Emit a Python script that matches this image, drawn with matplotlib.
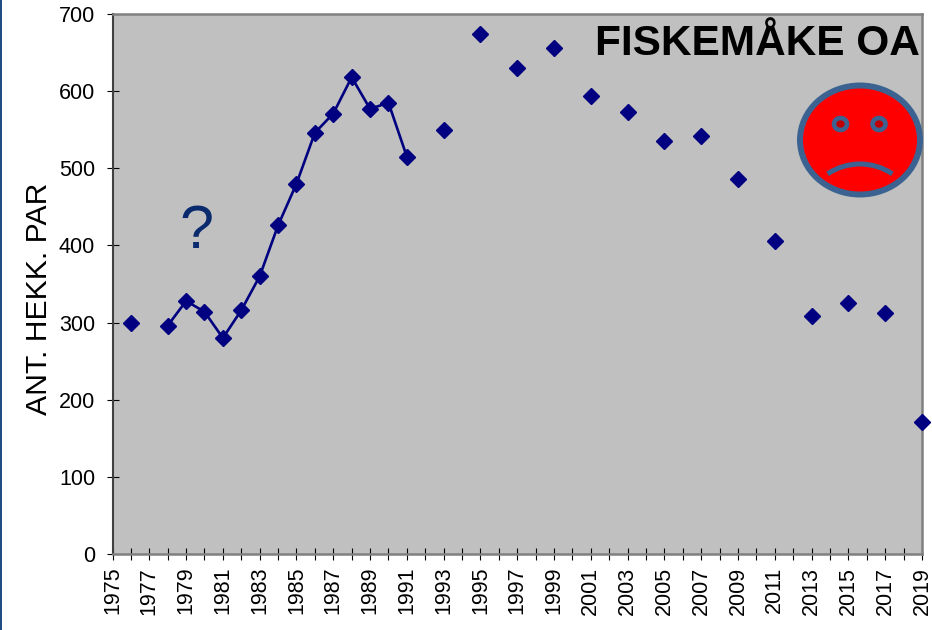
import numpy as np
import matplotlib
matplotlib.use("Agg")
import matplotlib.pyplot as plt
from matplotlib.patches import Ellipse, Arc, Rectangle

plt.rcParams['font.family'] = ['Liberation Sans', 'DejaVu Sans']

# pairs counted per year, nan = no count that year
years = list(range(1975, 2020))
pairs = [np.nan, 300, np.nan, 296, 328, 314, 280, 316, 360, 426, 480, 546, 571, 618, 577, 585, 515,
         np.nan, 550, np.nan, 674, np.nan, 630, np.nan, 656, np.nan, 594, np.nan, 573, np.nan, 535,
         np.nan, 542, np.nan, 486, np.nan, 406, np.nan, 309, np.nan, 325, np.nan, 313, np.nan, 171]
year_labels = list(range(1975, 2020, 2))
y_ticks = [0, 100, 200, 300, 400, 500, 600, 700]

W, H = 932, 630
fig = plt.figure(figsize=(W / 100, H / 100), dpi=100)
ax = fig.add_axes([112.5 / W, 1 - 554 / H, (922 - 112.5) / W, (554 - 14) / H])
ax.set_facecolor('#C0C0C0')

ax.plot(years, pairs, color='#000080', lw=1.9, marker='D', ms=8, clip_on=False, zorder=5)

ax.set_xlim(1975, 2019)
ax.set_ylim(0, 700)
ax.set_xticks(years)
ax.set_xticklabels([str(y) if y in year_labels else '' for y in years], rotation=90, fontsize=15.5)
ax.set_yticks(y_ticks)
ax.tick_params(axis='y', direction='inout', length=9, width=0.8, labelsize=15.5, pad=8)
ax.tick_params(axis='x', direction='inout', length=8.5, width=0.8, pad=5)
ax.set_ylabel('ANT. HEKK. PAR', fontsize=21.7)
ax.yaxis.set_label_coords(-0.073, 0.472)

for side in ['top', 'right', 'bottom']:
    ax.spines[side].set_color('#808080')
    ax.spines[side].set_linewidth(1.8)
ax.spines['left'].set_color('#404040')
ax.spines['left'].set_linewidth(1.5)

# overlay in pixel coords for the drawn-on stuff
ov = fig.add_axes([0, 0, 1, 1])
ov.set_xlim(0, W)
ov.set_ylim(H, 0)
ov.axis('off')
ov.patch.set_alpha(0)

ov.add_patch(Rectangle((0, 0), 1.5, H, color='#1F4E85', lw=0))

ov.text(920, 55, 'FISKEMÅKE OA', fontsize=30.5, fontweight='bold', ha='right', va='baseline', color='#000000')
ov.text(196, 232, '?', fontsize=44, ha='center', va='center', color='#0A2A6E')

# sad face
blue = '#3B6290'
ov.add_patch(Ellipse((860, 140), 120, 109, fc='#FF0000', ec=blue, lw=4.3))
for ex in [840.5, 879]:
    ov.add_patch(Ellipse((ex, 124), 13, 12, fc='#C00000', ec=blue, lw=3.3))
ov.add_patch(Arc((860, 222), 116, 116, theta1=236, theta2=304, ec=blue, lw=3.6))

fig.savefig('out.png', dpi=100)
